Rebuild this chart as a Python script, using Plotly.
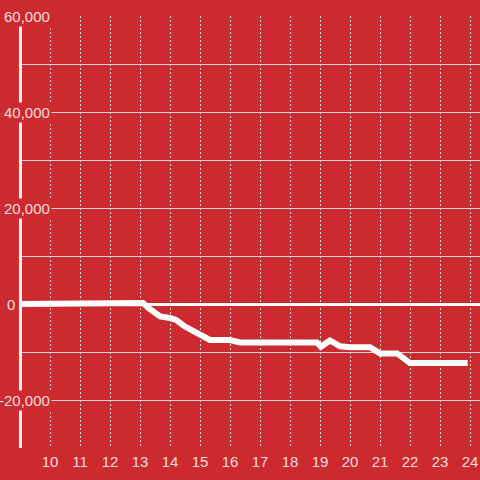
import plotly.graph_objects as go

# data
hours = [8.9, 13.0, 13.1, 13.3, 13.67, 14.0, 14.2, 14.5, 15.0, 15.33, 16.0, 16.33,
         18.9, 19.03, 19.33, 19.67, 20.0, 20.67, 21.0, 21.57, 22.0, 23.92]
values = [0, 0, 200, -900, -2600, -2900, -3300, -4700, -6500, -7500, -7500, -8000,
          -8000, -8900, -7600, -8800, -9000, -9000, -10300, -10300, -12300, -12300]
y_tick_vals = [60000, 40000, 20000, 0, -20000]
y_tick_text = ["60,000", "40,000", "20,000", "0", "-20,000"]
x_tick_vals = list(range(10, 25))

BG = "#cc2a2f"
LABEL = "#f3dede"
GRID = "#d6d6d6"

fig = go.Figure()
fig.add_trace(go.Scatter(x=hours, y=values, mode="lines",
                         line=dict(color="white", width=6), hoverinfo="skip"))

W, H = 480, 480
ml, mr, mt, mb = 20, 0, 16, 32
pw = W - ml - mr

fig.update_layout(
    width=W, height=H, autosize=False,
    margin=dict(l=ml, r=mr, t=mt, b=mb, pad=0),
    paper_bgcolor=BG, plot_bgcolor=BG,
    showlegend=False,
    font=dict(family="Liberation Sans, Arial, sans-serif", size=15, color=LABEL),
    xaxis=dict(range=[9, 9 + pw / 30], tickvals=x_tick_vals, showgrid=True,
               gridcolor=GRID, griddash="2px,2px", gridwidth=1, zeroline=False,
               showline=False, ticks="", ticklabelstandoff=3,
               tickfont=dict(color=LABEL, size=15)),
    yaxis=dict(range=[-30000, 60000], dtick=10000, tick0=0, showgrid=True,
               gridcolor=GRID, gridwidth=1, showticklabels=False,
               zeroline=True, zerolinecolor="white", zerolinewidth=3,
               showline=False, ticks=""),
)

# y axis line
fig.add_shape(type="line", xref="paper", yref="paper", x0=0.001, x1=0.001, y0=0, y1=1,
              line=dict(color="#f2f2f2", width=3), layer="above")

for v, t in zip(y_tick_vals, y_tick_text):
    right_px = 32 if t != "0" else -3
    fig.add_annotation(x=right_px / pw, xref="paper", y=v, yref="y", text=t,
                       showarrow=False, xanchor="right", yanchor="middle",
                       bgcolor=BG if t != "0" else "rgba(0,0,0,0)", borderpad=1,
                       font=dict(color=LABEL, size=15))

fig.write_html(
    "out.html",
    config={"displayModeBar": False},
    post_script="document.body.style.margin='0';document.body.style.overflow='hidden';",
)
